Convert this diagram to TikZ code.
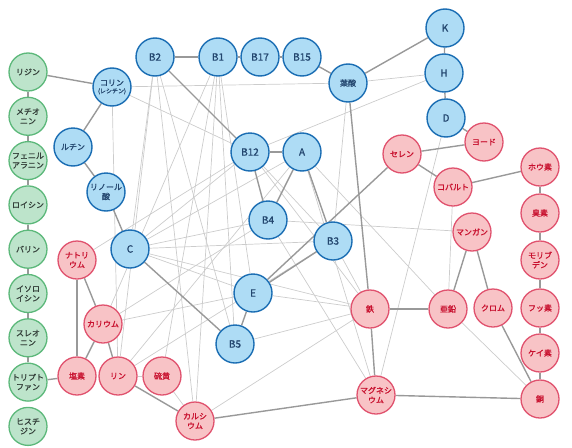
\documentclass[tikz,border=0pt]{standalone}
\usepackage{fontspec}
\setmainfont{Noto Sans CJK JP}[BoldFont={Noto Sans CJK JP}, BoldFeatures={FakeBold=1.2}]
\usetikzlibrary{positioning,backgrounds}

\definecolor{vitfill}{HTML}{AEDCF5}
\definecolor{vitline}{HTML}{1A6DB3}
\definecolor{vittext}{HTML}{23466E}
\definecolor{minfill}{HTML}{F8C3C6}
\definecolor{minline}{HTML}{E0526E}
\definecolor{mintext}{HTML}{C8102E}
\definecolor{amifill}{HTML}{BDE4CB}
\definecolor{amiline}{HTML}{5CB87A}
\definecolor{amitext}{HTML}{34403A}

\begin{document}
\begin{tikzpicture}[
        x=1pt, y=-1pt,
        node distance=5pt,
        vitamin/.style={circle, draw=vitline, fill=vitfill, line width=1.4pt, minimum size=38pt, inner sep=0pt, align=center, text=vittext, font=\fontsize{10}{11}\selectfont\bfseries},
        mineral/.style={circle, draw=minline, fill=minfill, line width=1.3pt, minimum size=38pt, inner sep=0pt, align=center, text=mintext, font=\fontsize{8}{9.5}\selectfont\bfseries},
        amino/.style={circle, draw=amiline, fill=amifill, line width=1.3pt, minimum size=38pt, inner sep=0pt, align=center, text=amitext, font=\fontsize{8}{9.5}\selectfont\bfseries},
        jp/.style={font=\fontsize{8}{9.5}\selectfont\bfseries},
        strong/.style={draw=black!40, line width=1.4pt},
        weak/.style={draw=black!20, line width=0.7pt}
    ]
    \useasboundingbox (0,0) rectangle (572,447);

    % Amino acids
    \node[amino] (lys) at (28,72) {リジン};
    \node[amino, below=of lys] (met) {メチオ\\ニン};
    \node[amino, below=of met] (phe) {フェニル\\アラニン};
    \node[amino, below=of phe] (leu) {ロイシン};
    \node[amino, below=of leu] (val) {バリン};
    \node[amino, below=of val] (ile) {イソロ\\イシン};
    \node[amino, below=of ile] (thr) {スレオ\\ニン};
    \node[amino, below=of thr] (trp) {トリプト\\ファン};
    \node[amino, below=of trp] (his) {ヒスチ\\ジン};

    % Vitamins
    \node[vitamin, jp] (chol) at (112,87) {コリン\\[-2pt]{\fontsize{6}{6}\selectfont (レシチン)}};
    \node[vitamin, jp] (rut) at (73,147) {ルチン};
    \node[vitamin, jp] (lin) at (106,192) {リノール\\酸};
    \node[vitamin] (vC) at (130,249) {C};
    \node[vitamin] (vB2) at (155,57) {B2};
    \node[vitamin] (vB1) at (218,57) {B1};
    \node[vitamin] (vB17) at (260,57) {B17};
    \node[vitamin] (vB15) at (302,57) {B15};
    \node[vitamin, jp] (fol) at (348,83) {葉酸};
    \node[vitamin] (vK) at (445,28) {K};
    \node[vitamin] (vH) at (444,73) {H};
    \node[vitamin] (vD) at (446,118) {D};
    \node[vitamin] (vB12) at (250,152) {B12};
    \node[vitamin] (vA) at (302,152) {A};
    \node[vitamin] (vB4) at (268,220) {B4};
    \node[vitamin] (vB3) at (333,241) {B3};
    \node[vitamin] (vE) at (253,293) {E};
    \node[vitamin] (vB5) at (235,344) {B5};

    % Minerals
    \node[mineral] (iod) at (484,142) {ヨード};
    \node[mineral] (sel) at (402,154) {セレン};
    \node[mineral] (cob) at (453,187) {コバルト};
    \node[mineral] (bor) at (540,167) {ホウ素};
    \node[mineral] (brm) at (540,213) {臭素};
    \node[mineral] (mol) at (540,260) {モリブ\\デン};
    \node[mineral] (flu) at (540,308) {フッ素};
    \node[mineral] (sil) at (540,353) {ケイ素};
    \node[mineral] (cop) at (540,399) {銅};
    \node[mineral] (mang) at (472,232) {マンガン};
    \node[mineral] (zinc) at (448,309) {亜鉛};
    \node[mineral] (chr) at (493,308) {クロム};
    \node[mineral] (iron) at (370,309) {鉄};
    \node[mineral] (mag) at (376,395) {マグネシ\\ウム};
    \node[mineral] (na) at (77,260) {ナトリ\\ウム};
    \node[mineral] (kal) at (103,324) {カリウム};
    \node[mineral] (cl) at (77,376) {塩素};
    \node[mineral] (phos) at (118,376) {リン};
    \node[mineral] (sul) at (162,376) {硫黄};
    \node[mineral] (cal) at (195,421) {カルシ\\ウム};

    \begin{scope}[on background layer]
    % Weak links
    \draw[weak] (chol) -- (fol);
    \draw[weak] (chol) -- (vB12);
    \draw[weak] (chol) -- (phos);
    \draw[weak] (vB12) -- (vH);
    \draw[weak] (fol) -- (vH);
    \draw[weak] (fol) -- (vB3);
    \draw[weak] (vD) -- (mag);
    \draw[weak] (cob) -- (zinc);
    \draw[weak] (zinc) -- (cop);
    \draw[weak] (vA) -- (zinc);
    \draw[weak] (vB4) -- (mang);
    \draw[weak] (vB4) -- (mag);
    \draw[weak] (vA) -- (mag);
    \draw[weak] (vB12) -- (iron);
    \draw[weak] (vB3) -- (iron);
    \draw[weak] (vE) -- (iron);
    \draw[weak] (vB5) -- (iron);
    \draw[weak] (cal) -- (iron);
    \draw[weak] (vC) -- (vB4);
    \draw[weak] (vC) -- (vE);
    \draw[weak] (vC) -- (vB3);
    \draw[weak] (vC) -- (iron);
    \draw[weak] (vC) -- (vA);
    \draw[weak] (na) -- (vB12);
    \draw[weak] (kal) -- (vB4);
    \draw[weak] (kal) -- (vE);
    \draw[weak] (phos) -- (vA);
    \draw[weak] (phos) -- (vB3);
    \draw[weak] (phos) -- (sul);
    \draw[weak] (sul) -- (vB1);
    \draw[weak] (sul) -- (cal);
    \draw[weak] (vB2) -- (vC);
    \draw[weak] (vB2) -- (vB5);
    \draw[weak] (vB2) -- (cal);
    \draw[weak] (vB2) -- (phos);
    \draw[weak] (vB1) -- (kal);
    \draw[weak] (vB1) -- (cal);
    \draw[weak] (vB1) -- (vB5);
    \draw[weak] (vB1) -- (vE);
    \draw[weak] (vB12) -- (vB3);
    \draw[weak] (vB12) -- (vC);

    % Strong links
    \foreach \a/\b in {lys/met, met/phe, phe/leu, leu/val, val/ile, ile/thr, thr/trp}
        \draw[strong] (\a) -- (\b);
    \draw[strong] (lys) -- (chol);
    \draw[strong] (chol) -- (rut);
    \draw[strong] (rut) -- (lin);
    \draw[strong] (lin) -- (vC);
    \draw[strong] (vB2) -- (vB1);
    \draw[strong] (vB1) -- (vB17);
    \draw[strong] (vB17) -- (vB15);
    \draw[strong] (vB15) -- (fol);
    \draw[strong] (vB2) -- (vB12);
    \draw[strong] (vB12) -- (vA);
    \draw[strong] (vB12) -- (vB4);
    \draw[strong] (vA) -- (vB4);
    \draw[strong] (vA) -- (vB3);
    \draw[strong] (vB3) -- (vE);
    \draw[strong] (vE) -- (sel);
    \draw[strong] (vE) -- (vB5);
    \draw[strong] (vC) -- (vB5);
    \draw[strong] (fol) -- (vK);
    \draw[strong] (vK) -- (vH);
    \draw[strong] (vH) -- (vD);
    \draw[strong] (vD) -- (iod);
    \draw[strong] (iod) -- (sel);
    \draw[strong] (sel) -- (cob);
    \draw[strong] (cob) -- (bor);
    \foreach \a/\b in {bor/brm, brm/mol, mol/flu, flu/sil, sil/cop}
        \draw[strong] (\a) -- (\b);
    \draw[strong] (fol) -- (iron);
    \draw[strong] (iron) -- (mag);
    \draw[strong] (iron) -- (zinc);
    \draw[strong] (zinc) -- (mang);
    \draw[strong] (mang) -- (chr);
    \draw[strong] (chr) -- (cop);
    \draw[strong] (mag) -- (cop);
    \draw[strong] (mag) -- (cal);
    \draw[strong] (cal) -- (phos);
    \draw[strong] (phos) -- (kal);
    \draw[strong] (cl) -- (kal);
    \draw[strong] (na) -- (kal);
    \draw[strong] (na) -- (cl);
    \draw[strong] (trp) -- (cl);
    \end{scope}

\end{tikzpicture}
\end{document}
